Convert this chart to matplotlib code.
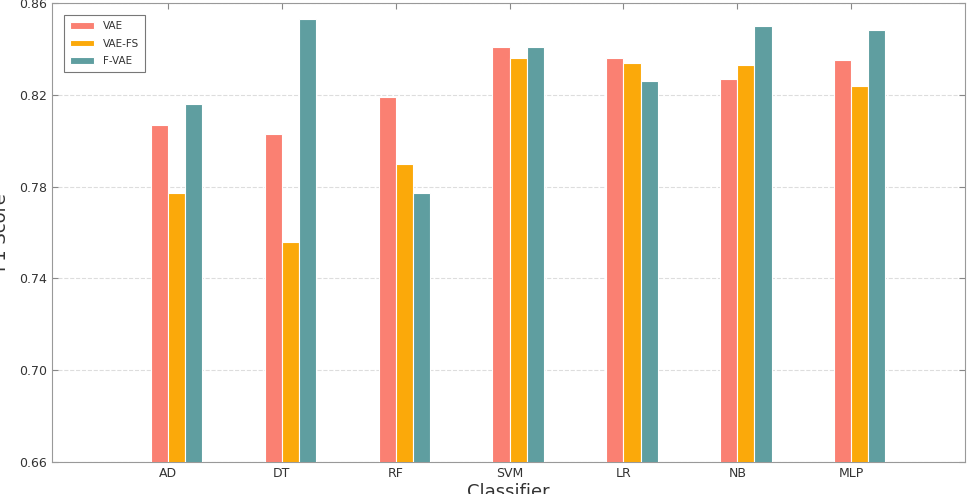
import numpy as np
from matplotlib import pyplot as plt

classifiers = ["AD", "DT", "RF", "SVM", "LR", "NB", "MLP"]
vae = [0.807, 0.803, 0.819, 0.841, 0.836, 0.827, 0.835]
vae_fs = [0.777, 0.756, 0.790, 0.836, 0.834, 0.833, 0.824]
f_vae = [0.816, 0.853, 0.777, 0.841, 0.826, 0.850, 0.848]
yticks = [0.66, 0.70, 0.74, 0.78, 0.82, 0.86]


def main():
    fig = plt.figure(figsize=(9.73, 4.94), dpi=100)
    ax = fig.add_axes([0.053, 0.065, 0.939, 0.929])

    index = np.arange(len(classifiers))
    w = 0.15
    ax.bar(index, vae, w, align="edge", color="salmon", edgecolor="white", linewidth=0.8, label="VAE", zorder=3)
    ax.bar(index + w, vae_fs, w, align="edge", color="#FBA90A", edgecolor="white", linewidth=0.8, label="VAE-FS", zorder=3)
    ax.bar(index + 2 * w, f_vae, w, align="edge", color="cadetblue", edgecolor="white", linewidth=0.8, label="F-VAE", zorder=3)

    ax.set_xticks(index + w)
    ax.set_xticklabels(classifiers, fontsize=9, color="#333333")
    ax.set_yticks(yticks)
    ax.set_yticklabels(["%.2f" % v for v in yticks], fontsize=9, color="#333333")
    ax.set_xlim(-0.87, 7.15)
    ax.set_ylim(0.66, 0.86)

    ax.tick_params(direction="in", top=True, right=True, length=4, color="#888888")
    for s in ax.spines.values():
        s.set_color("#999999")
    ax.yaxis.grid(True, linestyle="--", color="#dddddd", linewidth=0.8, zorder=0)

    # labels are partly cut off by the figure edge, as in the original
    ax.set_xlabel("Classifier", fontsize=13, color="#333333", labelpad=2)
    ax.set_ylabel("F1 Score", fontsize=13, color="#333333", labelpad=6)

    leg = ax.legend(loc="upper left", fontsize=7.5, frameon=True, fancybox=False,
                    handlelength=2.3, handleheight=0.6, borderpad=0.6, labelspacing=0.7,
                    bbox_to_anchor=(0.008, 0.985))
    leg.get_frame().set_edgecolor("#555555")
    leg.get_frame().set_linewidth(0.8)
    for t in leg.get_texts():
        t.set_color("#333333")

    fig.savefig("out.png", dpi=100)


if __name__ == "__main__":
    main()
